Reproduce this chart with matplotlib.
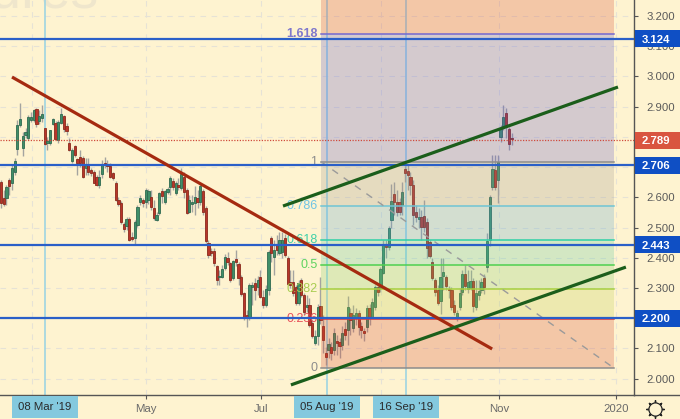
import matplotlib
matplotlib.use("Agg")
import matplotlib.pyplot as plt
from matplotlib.patches import Rectangle
from matplotlib.transforms import blended_transform_factory

plt.rcParams['font.family'] = ['Liberation Sans', 'DejaVu Sans']

direction = ("RRGRGGGGGG" "GGGRGGRGGG" "RGGRRRGRRR" "RGRRRRGGRR" "RRRRRRGRRG"
             "GGRGGRRGGR" "GGGRGRGRRG" "GGRGRRRRRR" "GGGRRGRRRR" "RGGRGRRGGR"
             "GRGGRRRRRG" "RRGRRGGRRR" "GRGRRGRGRG" "GRRRGRGGRG" "GRGGRRRGRR"
             "RRRGRRRRRR" "RGGRRRRGGG" "RGGRGGGRGG" "GRGGGRRR")

body_top = [2.651,2.598,2.634,2.657,2.697,2.720,2.839,2.859,2.803,2.816,
 2.866,2.866,2.889,2.892,2.869,2.876,2.829,2.786,2.823,2.859,
 2.846,2.849,2.876,2.869,2.836,2.780,2.756,2.770,2.727,2.733,
 2.730,2.707,2.707,2.690,2.684,2.667,2.667,2.710,2.713,2.707,
 2.704,2.680,2.647,2.591,2.581,2.512,2.528,2.528,2.469,2.518,
 2.568,2.598,2.591,2.624,2.621,2.601,2.565,2.541,2.614,2.621,
 2.621,2.627,2.664,2.654,2.647,2.641,2.677,2.667,2.624,2.591,
 2.584,2.601,2.598,2.637,2.621,2.565,2.449,2.422,2.422,2.373,
 2.339,2.363,2.402,2.399,2.382,2.389,2.396,2.379,2.336,2.283,
 2.210,2.310,2.310,2.316,2.326,2.336,2.270,2.296,2.419,2.465,
 2.425,2.442,2.459,2.459,2.465,2.399,2.320,2.320,2.303,2.316,
 2.326,2.277,2.243,2.243,2.184,2.141,2.237,2.240,2.174,2.085,
 2.114,2.104,2.151,2.124,2.121,2.151,2.164,2.237,2.217,2.210,
 2.217,2.217,2.174,2.157,2.234,2.234,2.253,2.303,2.303,2.363,
 2.445,2.442,2.498,2.588,2.611,2.584,2.584,2.617,2.694,2.687,
 2.667,2.641,2.551,2.535,2.535,2.538,2.518,2.452,2.386,2.326,
 2.293,2.336,2.353,2.336,2.296,2.293,2.243,2.217,2.283,2.346,
 2.346,2.320,2.323,2.323,2.283,2.290,2.320,2.333,2.455,2.601,
 2.694,2.690,2.717,2.829,2.866,2.879,2.826,2.796]

body_bottom = [2.581,2.578,2.598,2.637,2.647,2.684,2.760,2.839,2.763,2.806,
 2.796,2.856,2.856,2.843,2.853,2.862,2.776,2.780,2.780,2.843,
 2.793,2.790,2.846,2.826,2.819,2.756,2.720,2.740,2.713,2.713,
 2.667,2.697,2.684,2.680,2.647,2.641,2.641,2.677,2.707,2.704,
 2.667,2.664,2.591,2.578,2.518,2.495,2.505,2.459,2.462,2.465,
 2.508,2.584,2.581,2.584,2.591,2.568,2.531,2.525,2.548,2.604,
 2.584,2.617,2.634,2.634,2.614,2.634,2.631,2.617,2.548,2.551,
 2.578,2.581,2.584,2.584,2.551,2.455,2.409,2.416,2.382,2.326,
 2.336,2.336,2.366,2.386,2.326,2.333,2.386,2.333,2.280,2.204,
 2.200,2.200,2.303,2.293,2.303,2.270,2.243,2.243,2.293,2.416,
 2.402,2.425,2.416,2.419,2.409,2.313,2.310,2.283,2.250,2.250,
 2.277,2.220,2.237,2.177,2.141,2.118,2.141,2.194,2.128,2.071,
 2.095,2.085,2.095,2.118,2.108,2.111,2.144,2.161,2.194,2.167,
 2.204,2.171,2.161,2.151,2.171,2.204,2.204,2.237,2.287,2.300,
 2.349,2.435,2.435,2.525,2.584,2.551,2.551,2.574,2.680,2.674,
 2.641,2.541,2.535,2.528,2.502,2.502,2.432,2.406,2.333,2.287,
 2.250,2.257,2.339,2.306,2.293,2.237,2.220,2.204,2.237,2.287,
 2.306,2.296,2.300,2.240,2.237,2.277,2.293,2.303,2.369,2.459,
 2.634,2.634,2.657,2.800,2.829,2.833,2.776,2.793]

highs = [2.657,2.624,2.641,2.664,2.707,2.730,2.856,2.912,2.816,2.829,
 2.872,2.882,2.892,2.895,2.889,2.905,2.829,2.800,2.823,2.862,
 2.853,2.856,2.895,2.872,2.846,2.796,2.763,2.773,2.730,2.756,
 2.737,2.730,2.730,2.697,2.690,2.674,2.690,2.723,2.733,2.723,
 2.713,2.684,2.654,2.601,2.588,2.518,2.535,2.535,2.485,2.525,
 2.574,2.607,2.598,2.631,2.627,2.624,2.591,2.551,2.617,2.631,
 2.624,2.634,2.670,2.664,2.654,2.664,2.697,2.684,2.631,2.607,
 2.607,2.637,2.624,2.647,2.627,2.571,2.459,2.432,2.432,2.376,
 2.359,2.376,2.412,2.419,2.386,2.392,2.425,2.386,2.343,2.287,
 2.227,2.316,2.320,2.333,2.339,2.359,2.293,2.310,2.425,2.472,
 2.459,2.475,2.485,2.485,2.478,2.406,2.359,2.359,2.310,2.326,
 2.333,2.283,2.277,2.267,2.194,2.161,2.247,2.336,2.210,2.104,
 2.134,2.121,2.167,2.144,2.134,2.174,2.187,2.273,2.234,2.243,
 2.234,2.227,2.187,2.167,2.243,2.247,2.267,2.310,2.313,2.369,
 2.459,2.459,2.505,2.644,2.651,2.624,2.598,2.651,2.704,2.707,
 2.684,2.657,2.574,2.565,2.558,2.591,2.531,2.459,2.399,2.333,
 2.310,2.399,2.399,2.343,2.306,2.303,2.260,2.227,2.300,2.359,
 2.376,2.359,2.359,2.333,2.326,2.326,2.333,2.346,2.482,2.607,
 2.740,2.740,2.740,2.839,2.905,2.895,2.833,2.813]

lows = [2.565,2.571,2.574,2.607,2.624,2.674,2.740,2.833,2.737,2.796,
 2.790,2.849,2.849,2.833,2.843,2.849,2.773,2.756,2.773,2.839,
 2.790,2.780,2.843,2.816,2.806,2.753,2.713,2.733,2.674,2.700,
 2.664,2.674,2.674,2.670,2.647,2.637,2.631,2.664,2.697,2.684,
 2.664,2.657,2.588,2.571,2.512,2.485,2.492,2.455,2.455,2.442,
 2.502,2.574,2.568,2.565,2.578,2.558,2.525,2.521,2.541,2.581,
 2.578,2.611,2.607,2.624,2.607,2.624,2.624,2.598,2.545,2.548,
 2.551,2.541,2.565,2.574,2.541,2.449,2.399,2.406,2.373,2.310,
 2.310,2.333,2.359,2.376,2.320,2.326,2.373,2.310,2.273,2.194,
 2.171,2.194,2.243,2.260,2.277,2.267,2.234,2.237,2.277,2.386,
 2.343,2.409,2.409,2.399,2.402,2.310,2.300,2.273,2.243,2.243,
 2.270,2.210,2.220,2.171,2.134,2.111,2.111,2.181,2.085,2.045,
 2.068,2.061,2.078,2.078,2.068,2.095,2.128,2.111,2.144,2.154,
 2.177,2.144,2.134,2.124,2.154,2.177,2.200,2.227,2.273,2.287,
 2.346,2.399,2.425,2.498,2.541,2.538,2.541,2.541,2.651,2.624,
 2.607,2.508,2.518,2.498,2.459,2.485,2.399,2.399,2.326,2.273,
 2.243,2.214,2.293,2.293,2.267,2.227,2.210,2.191,2.227,2.277,
 2.293,2.283,2.293,2.220,2.227,2.260,2.283,2.280,2.353,2.439,
 2.624,2.624,2.581,2.783,2.823,2.796,2.756,2.773]

price_ticks = [2.0, 2.1, 2.2, 2.3, 2.4, 2.5, 2.6, 2.7, 2.8, 2.9, 3.0, 3.1, 3.2]
covered_ticks = [2.2, 2.7, 2.8]
key_levels = [3.124, 2.706, 2.443, 2.200]
last_price = 2.789

fib_levels = [0, 0.236, 0.382, 0.5, 0.618, 0.786, 1, 1.618]
fib_labels = ["0", "0.236", "0.382", "0.5", "0.618", "0.786", "1", "1.618"]
fib_low, fib_high = 2.035, 2.718
fib_span = [117.2, 224.5]
fib_fill = ["#d64730", "#becf50", "#82cf70", "#56c7a0", "#56a3d0", "#9e9790", "#5a53cc", "#d64730"]
fib_line = ["#8c8c8c", "#e03a3a", "#a8d040", "#4fd04f", "#2fd0a5", "#6fc4d4", "#8c8c8c", "#7468d0"]
fib_text = ["#8c8c8c", "#e8505a", "#a8cc50", "#5fd35f", "#3fd0a8", "#6fc4e4", "#8c8c8c", "#7f78cc"]

time_grid = [11.4, 53.1, 95.2, 139.2, 182.4, 225.3]
grey_dates = [(53.1, "May"), (95.2, "Jul"), (182.4, "Nov"), (225.3, "2020")]
marked_dates = [(16.1, "08 Mar '19"), (119.4, "05 Aug '19"), (148.4, "16 Sep '19")]

red_trend = ([4.03, 179.9], [2.998, 2.098])
green_upper = ([103.3, 226.0], [2.571, 2.965])
green_lower = ([106.2, 228.9], [1.979, 2.369])
fib_diag = ([117.2, 224.5], [2.718, 2.035])

BG = "#fef3d0"
BLUE = "#2a5fc8"
W, H = 680, 419
PLOT_W, PLOT_B = 634, 395
step = 2.73

fig = plt.figure(figsize=(W / 100, H / 100), dpi=100, facecolor=BG)
ax = fig.add_axes([0, (H - PLOT_B) / H, PLOT_W / W, PLOT_B / H], facecolor=BG)
ax.set_xlim(-1 / step, (PLOT_W - 1) / step)
ax.set_ylim(1.9456, 3.253)

for s in ("top", "left"):
    ax.spines[s].set_visible(False)
for s in ("right", "bottom"):
    ax.spines[s].set_color("#555555")
    ax.spines[s].set_linewidth(1.0)
fig.add_artist(plt.Line2D([PLOT_W / W, 1], [(H - PLOT_B) / H] * 2, color="#555555", lw=1.0))

for p in price_ticks:
    ax.axhline(p, color="#e6e2d6", lw=0.8, ls=(0, (5, 5)), zorder=1)
for t in time_grid:
    ax.axvline(t, color="#e6e2d6", lw=0.8, ls=(0, (5, 5)), zorder=1)

ax.text(98 / step, 3.228, "Futures", fontsize=40, color="#efe6cc", ha="right", va="baseline",
        zorder=1, clip_on=False)

for t, _ in marked_dates:
    ax.axvline(t, color="#9fd4e2", lw=1.2, zorder=2)

for i, d in enumerate(direction):
    ax.vlines(i, lows[i], highs[i], color="#a4a4a0", lw=1.0, zorder=3)
    up = d == "G"
    ax.bar(i, body_top[i] - body_bottom[i], bottom=body_bottom[i], width=0.82,
           color="#3f8f68" if up else "#b8352a",
           edgecolor="#2f6a50" if up else "#8a2a1c", linewidth=0.6, zorder=4)

# Fibonacci bands, laid over the candles
band_edges = [fib_low + lv * (fib_high - fib_low) for lv in fib_levels] + [3.253]
for k in range(len(fib_levels)):
    ax.add_patch(Rectangle((fib_span[0], band_edges[k]), fib_span[1] - fib_span[0],
                           band_edges[k + 1] - band_edges[k], facecolor=fib_fill[k],
                           alpha=0.25, edgecolor="none", zorder=5))
for k, lv in enumerate(fib_levels):
    y = band_edges[k]
    ax.plot(fib_span, [y, y], color=fib_line[k], lw=1.1, zorder=6)
    ax.text(fib_span[0] - 1.3, y, fib_labels[k], color=fib_text[k], fontsize=9, ha="right",
            va="center", fontweight="bold" if lv == 1.618 else "normal", zorder=6)

ax.plot(*fib_diag, color="#9a9a9a", lw=1.0, ls=(0, (5, 5)), zorder=6)

ax.axhline(last_price, color="#cf4a3c", lw=0.9, ls=(0, (1, 1.2)), zorder=7)
for lv in key_levels:
    ax.axhline(lv, color=BLUE, lw=1.6, zorder=7)

ax.plot(*red_trend, color="#a52a10", lw=2.3, zorder=8, solid_capstyle="butt")
ax.plot(*green_upper, color="#1b5e1b", lw=2.3, zorder=8, solid_capstyle="butt")
ax.plot(*green_lower, color="#1b5e1b", lw=2.3, zorder=8, solid_capstyle="butt")

# right price scale
ax.yaxis.tick_right()
ax.set_yticks(price_ticks)
ax.set_yticklabels(["" if p in covered_ticks else f"{p:.3f}" for p in price_ticks],
                   fontsize=8.2, color="#5a5a5a")
ax.tick_params(axis="y", length=3, width=0.8, color="#555555", pad=6)

price_tr = blended_transform_factory(fig.transFigure, ax.transData)
box_h = 17 / PLOT_B * (3.253 - 1.9456)
for lv, col in [(v, "#0f4fc4") for v in key_levels] + [(last_price, "#d9553f")]:
    fig.add_artist(Rectangle((PLOT_W / W + 0.001, lv - box_h / 2), 1 - PLOT_W / W, box_h, facecolor=col,
                             edgecolor="none", transform=price_tr, zorder=19))
    fig.text(656 / W, lv, f"{lv:.3f}", transform=price_tr, ha="center", va="center_baseline",
             fontsize=8.2, fontweight="bold", color="white", zorder=20)

# time scale
ax.set_xticks([t for t, _ in grey_dates + marked_dates])
ax.set_xticklabels([""] * (len(grey_dates) + len(marked_dates)))
ax.tick_params(axis="x", length=3, width=0.8, color="#555555")
for t, lab in grey_dates:
    ax.annotate(lab, xy=(t, 0), xycoords=("data", "axes fraction"), xytext=(0, -14),
                textcoords="offset pixels", ha="center", va="center", fontsize=8.2, color="#6a6a6a")
for t, lab in marked_dates:
    ax.annotate(lab, xy=(t, 0), xycoords=("data", "axes fraction"), xytext=(0, -12),
                textcoords="offset pixels", ha="center", va="center", fontsize=8.2, color="#2a2a2a",
                zorder=20, bbox=dict(boxstyle="square,pad=0.55", fc="#84c9de", ec="none"))

# settings gear in the corner
gear_xy = ([655 / W], [1 - 409 / H])
fig.add_artist(plt.Line2D(*gear_xy, marker=(8, 2, 0), ms=13, mec="#222222", mew=1.0, ls="none"))
fig.add_artist(plt.Line2D(*gear_xy, marker="o", ms=9.5, mfc=BG, mec="#222222", mew=0.9, ls="none"))

fig.savefig("out.png", dpi=100, facecolor=BG)
